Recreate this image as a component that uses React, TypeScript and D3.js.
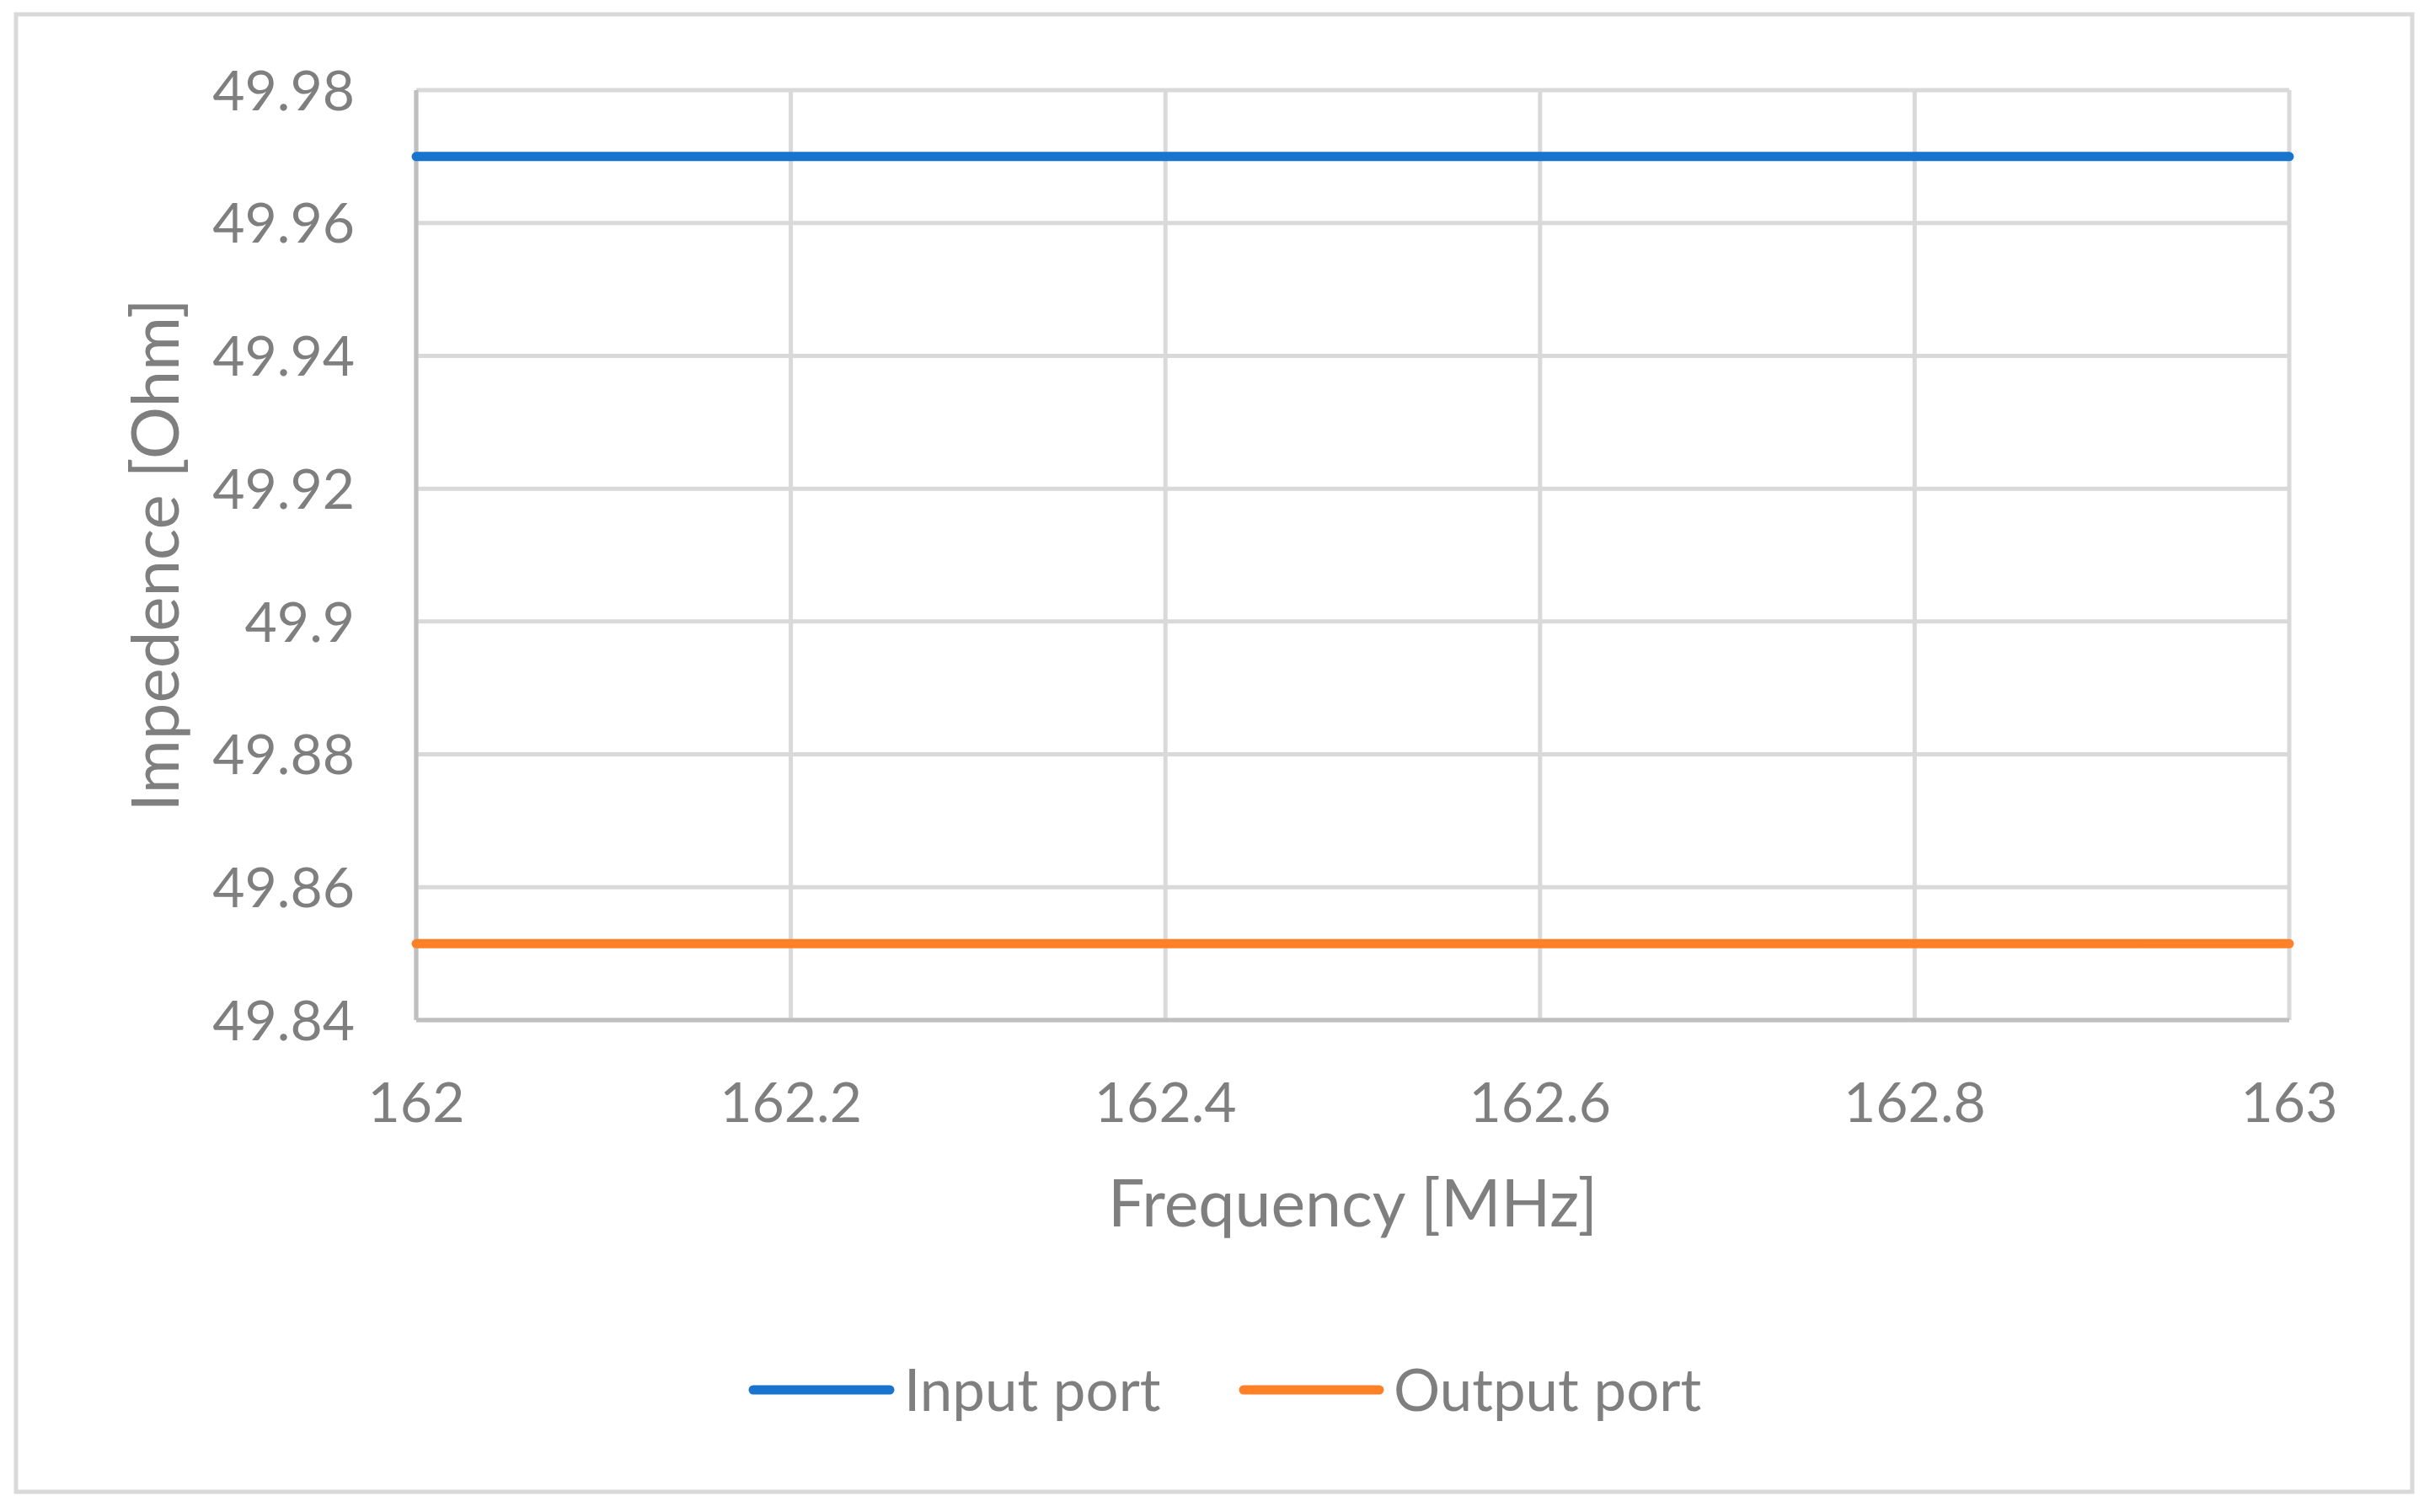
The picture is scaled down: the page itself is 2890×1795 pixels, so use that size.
import * as d3 from 'd3';

const width = 2890;
const height = 1795;

// frequency samples [MHz] and impedance of each port [Ohm]
const frequency = [162, 162.1, 162.2, 162.3, 162.4, 162.5, 162.6, 162.7, 162.8, 162.9, 163];
const inputPort = [49.97, 49.97, 49.97, 49.97, 49.97, 49.97, 49.97, 49.97, 49.97, 49.97, 49.97];
const outputPort = [49.8515, 49.8515, 49.8515, 49.8515, 49.8515, 49.8515, 49.8515, 49.8515, 49.8515, 49.8515, 49.8515];

const xTicks = [162, 162.2, 162.4, 162.6, 162.8, 163];
const yTicks = [49.84, 49.86, 49.88, 49.9, 49.92, 49.94, 49.96, 49.98];

const seriesNames = ['Input port', 'Output port'];
const seriesColors = ['#1874CD', '#FF8027'];

const margin = { left: 494, right: 2717, top: 107, bottom: 1211 };
const font = 'Lato, Carlito, "Open Sans", sans-serif';
const textColor = '#7F7F7F';

const App = () => {
  const x = d3.scaleLinear().domain([162, 163]).range([margin.left, margin.right]);
  const y = d3.scaleLinear().domain([49.84, 49.98]).range([margin.bottom, margin.top]);

  const line = d3
    .line<[number, number]>()
    .x(d => x(d[0]))
    .y(d => y(d[1]));

  const series = [inputPort, outputPort].map(vals => frequency.map((f, i) => [f, vals[i]] as [number, number]));

  const fmt = (v: number) => String(+v.toFixed(2));

  // legend layout
  const legendY = 1650;
  const legendItems = [
    { x1: 894, x2: 1056, tx: 1073 },
    { x1: 1476, x2: 1637, tx: 1654 },
  ];

  return (
    <div style={{ position: 'absolute', left: 0, top: 0 }}>
      <svg width={width} height={height} style={{ display: 'block', background: '#fff' }}>
        <rect x={0} y={0} width={width} height={height} fill="#fff" />
        {/* chart border */}
        <rect x={19} y={17} width={2844} height={1754} fill="none" stroke="#D9D9D9" strokeWidth={5} />

        {/* gridlines */}
        {yTicks.map(t => (
          <line key={'gy' + t} x1={margin.left} x2={margin.right} y1={y(t)} y2={y(t)} stroke="#D9D9D9" strokeWidth={5} />
        ))}
        {xTicks.map(t => (
          <line key={'gx' + t} x1={x(t)} x2={x(t)} y1={margin.top} y2={margin.bottom} stroke="#D9D9D9" strokeWidth={5} />
        ))}
        {/* axis lines */}
        <line x1={margin.left} x2={margin.left} y1={margin.top} y2={margin.bottom} stroke="#BFBFBF" strokeWidth={5} />
        <line x1={margin.left} x2={margin.right} y1={margin.bottom} y2={margin.bottom} stroke="#BFBFBF" strokeWidth={5} />

        {/* series */}
        {series.map((s, i) => (
          <path key={seriesNames[i]} d={line(s) || ''} fill="none" stroke={seriesColors[i]} strokeWidth={11} strokeLinecap="round" />
        ))}

        {/* y tick labels */}
        {yTicks.map(t => (
          <text key={'ly' + t} x={421} y={y(t)} dy="0.36em" textAnchor="end" fontFamily={font} fontSize={66} fill={textColor}>
            {fmt(t)}
          </text>
        ))}
        {/* x tick labels */}
        {xTicks.map(t => (
          <text key={'lx' + t} x={x(t)} y={1332} textAnchor="middle" fontFamily={font} fontSize={66} fill={textColor}>
            {fmt(t)}
          </text>
        ))}

        {/* axis titles */}
        <text x={(margin.left + margin.right) / 2} y={1456} textAnchor="middle" fontFamily={font} fontSize={77} fill={textColor}>
          Frequency [MHz]
        </text>
        <text
          transform={`translate(212, ${(margin.top + margin.bottom) / 2}) rotate(-90)`}
          textAnchor="middle"
          fontFamily={font}
          fontSize={78}
          fill={textColor}
        >
          Impedence [Ohm]
        </text>

        {/* legend */}
        {legendItems.map((it, i) => (
          <g key={'leg' + i}>
            <line x1={it.x1} x2={it.x2} y1={legendY} y2={legendY} stroke={seriesColors[i]} strokeWidth={11} strokeLinecap="round" />
            <text x={it.tx} y={legendY} dy="0.36em" fontFamily={font} fontSize={69} fill={textColor}>
              {seriesNames[i]}
            </text>
          </g>
        ))}
      </svg>
    </div>
  );
};

export default App;
